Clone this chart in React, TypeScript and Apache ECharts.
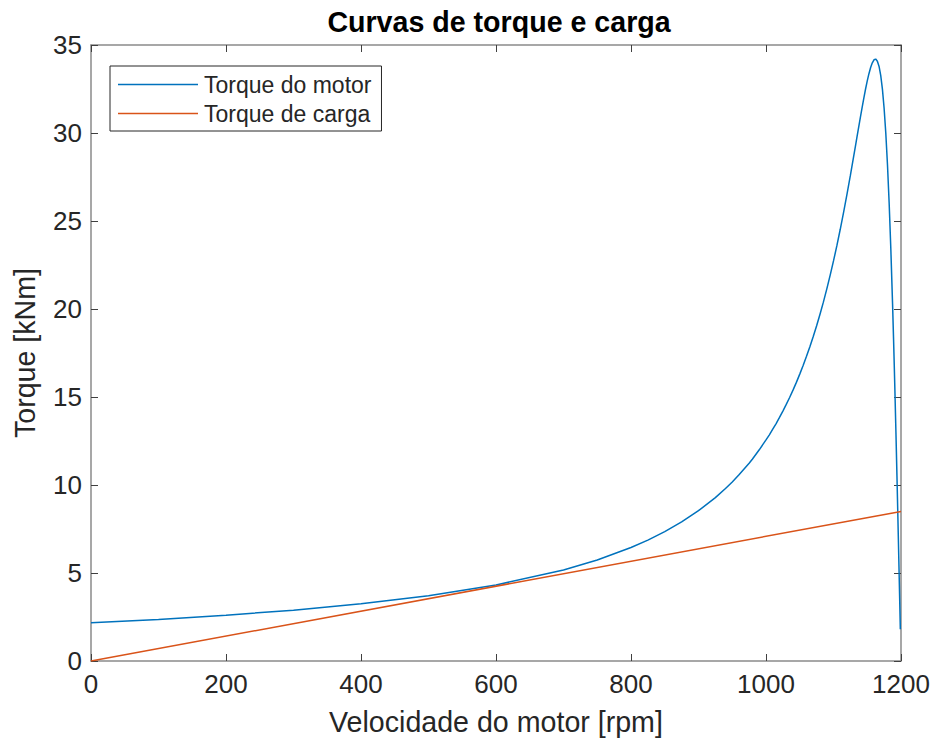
import React, { useEffect, useRef } from "react";
import * as echarts from "echarts";

const titleText = "Curvas de torque e carga";
const xName = "Velocidade do motor [rpm]";
const yName = "Torque [kNm]";
const seriesNames = ["Torque do motor", "Torque de carga"];

// Motor torque curve: speed [rpm], torque [kNm]
const motorSpeed = [
  0, 100, 200, 300, 400, 500, 600, 700, 750, 800, 825, 850, 875, 900, 925,
  940, 950, 960, 975, 980, 990, 1000, 1005, 1010, 1015, 1020, 1025, 1030,
  1035, 1040, 1045, 1050, 1055, 1060, 1065, 1070, 1075, 1080, 1085, 1090,
  1095, 1100, 1105, 1110, 1115, 1117.5, 1120, 1125, 1130, 1132.5, 1135,
  1137.5, 1140, 1142.5, 1145, 1147.5, 1150, 1152.5, 1155, 1157.5, 1160,
  1162.5, 1165, 1167.5, 1170, 1172.5, 1175, 1177.5, 1180, 1182.5, 1185,
  1187.5, 1189, 1190, 1191, 1192.5, 1194, 1195, 1196, 1197, 1198, 1199,
];
const motorTorque = [
  2.17, 2.36, 2.6, 2.89, 3.25, 3.71, 4.32, 5.17, 5.74, 6.45, 6.87, 7.35, 7.9,
  8.54, 9.28, 9.8, 10.17, 10.58, 11.24, 11.48, 12.0, 12.56, 12.85, 13.17,
  13.49, 13.84, 14.2, 14.58, 14.97, 15.39, 15.83, 16.3, 16.79, 17.31, 17.86,
  18.44, 19.05, 19.7, 20.39, 21.13, 21.91, 22.73, 23.6, 24.53, 25.51, 26.01,
  26.53, 27.59, 28.7, 29.26, 29.82, 30.38, 30.93, 31.47, 32.0, 32.5, 32.96,
  33.37, 33.72, 33.99, 34.16, 34.2, 34.08, 33.78, 33.26, 32.48, 31.39, 29.97,
  28.17, 25.97, 23.34, 20.29, 18.25, 16.82, 15.33, 12.98, 10.53, 8.84, 7.11,
  5.36, 3.59, 1.8,
];

// Load torque: straight line
const loadSpeed = [0, 1200];
const loadTorque = [0, 8.5];

const xTicks = [0, 200, 400, 600, 800, 1000, 1200];
const yTicks = [0, 5, 10, 15, 20, 25, 30, 35];

const FONT = "'Liberation Sans', Arial, Helvetica, sans-serif";
const TEXT = "#262626";
const AXIS = "#8a8a8a";
const TICK = "#404040";

export default function App() {
  const ref = useRef<HTMLDivElement>(null);
  useEffect(() => {
    if (!ref.current) return;
    const chart = echarts.init(ref.current, null, { renderer: "svg" });
    const tickCommon = { show: true, inside: true, length: 7, lineStyle: { color: TICK, width: 1 } };
    const lineCommon = { show: true, onZero: false, lineStyle: { color: AXIS, width: 1.5 } };
    const plain = (v: number) => String(v);
    chart.setOption({
      animation: false,
      backgroundColor: "#ffffff",
      textStyle: { fontFamily: FONT },
      title: {
        text: titleText,
        left: 494,
        textAlign: "center",
        top: 2,
        textStyle: { fontFamily: FONT, fontSize: 28.6, fontWeight: "bold", color: "#000000" },
      },
      legend: {
        left: 110,
        top: 66,
        orient: "vertical",
        data: seriesNames,
        icon: "rect",
        itemWidth: 80,
        itemHeight: 1.5,
        itemGap: 6,
        padding: [7, 10, 6, 8],
        borderColor: "#262626",
        borderWidth: 1,
        backgroundColor: "#ffffff",
        textStyle: { fontFamily: FONT, fontSize: 23, color: TEXT, padding: [0, 0, 0, 1] },
      },
      grid: { left: 91, right: 32, top: 45, bottom: 84, containLabel: false },
      xAxis: [
        {
          type: "value",
          min: xTicks[0],
          max: xTicks[xTicks.length - 1],
          interval: 200,
          name: xName,
          nameLocation: "middle",
          nameGap: 46,
          nameTextStyle: { fontFamily: FONT, fontSize: 28.6, color: TEXT },
          axisLine: lineCommon,
          axisTick: tickCommon,
          axisLabel: { fontFamily: FONT, fontSize: 26, color: TEXT, margin: 10, formatter: plain },
          splitLine: { show: false },
        },
        {
          type: "value",
          position: "top",
          min: xTicks[0],
          max: xTicks[xTicks.length - 1],
          interval: 200,
          axisLine: lineCommon,
          axisTick: tickCommon,
          axisLabel: { show: false },
          splitLine: { show: false },
        },
      ],
      yAxis: [
        {
          type: "value",
          min: yTicks[0],
          max: yTicks[yTicks.length - 1],
          interval: 5,
          name: yName,
          nameLocation: "middle",
          nameGap: 52,
          nameTextStyle: { fontFamily: FONT, fontSize: 28.6, color: TEXT },
          axisLine: lineCommon,
          axisTick: tickCommon,
          axisLabel: { fontFamily: FONT, fontSize: 26, color: TEXT, margin: 9, formatter: plain },
          splitLine: { show: false },
        },
        {
          type: "value",
          position: "right",
          min: yTicks[0],
          max: yTicks[yTicks.length - 1],
          interval: 5,
          axisLine: lineCommon,
          axisTick: tickCommon,
          axisLabel: { show: false },
          splitLine: { show: false },
        },
      ],
      series: [
        {
          name: seriesNames[0],
          type: "line",
          data: motorSpeed.map((s, i) => [s, motorTorque[i]]),
          symbol: "none",
          smooth: false,
          lineStyle: { color: "#0072BD", width: 1.5 },
          itemStyle: { color: "#0072BD" },
          z: 3,
        },
        {
          name: seriesNames[1],
          type: "line",
          data: loadSpeed.map((s, i) => [s, loadTorque[i]]),
          symbol: "none",
          lineStyle: { color: "#D95319", width: 1.5 },
          itemStyle: { color: "#D95319" },
          z: 4,
        },
      ],
    });
    return () => chart.dispose();
  }, []);
  return <div ref={ref} style={{ width: 933, height: 745, position: "absolute", left: 0, top: 0 }} />;
}
